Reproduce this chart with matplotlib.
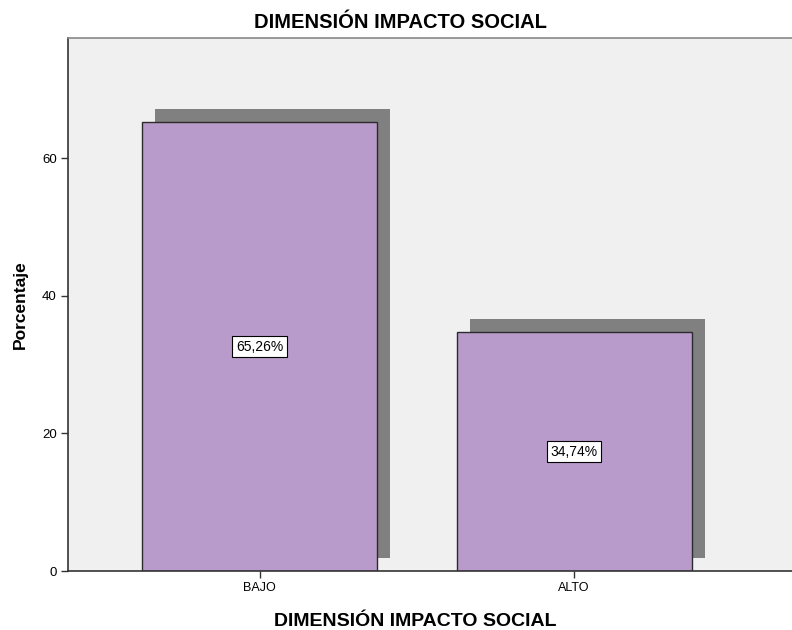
import matplotlib
matplotlib.use("Agg")
import matplotlib.pyplot as plt
import matplotlib.transforms as mtransforms

categories = ["BAJO", "ALTO"]
values = [65.26, 34.74]
labels = ["65,26%", "34,74%"]
yticks = [0, 20, 40, 60]

plt.rcParams['font.family'] = ['Liberation Sans', 'DejaVu Sans']

fig = plt.figure(figsize=(7.92, 6.30), dpi=100)
ax = fig.add_axes([68/792, 59/630, 1 - 68/792, (571-38)/630])
ax.set_facecolor('#F0F0F0')

x = list(range(len(categories)))
width = 0.747
shadow_tr = ax.transData + mtransforms.ScaledTranslation(13/100, 13/100, fig.dpi_scale_trans)
ax.bar(x, values, width=width, color='#808080', edgecolor='none', transform=shadow_tr, zorder=1)
ax.bar(x, values, width=width, color='#B89ACB', edgecolor='#2b2b2b', linewidth=1.0, zorder=2)

for xi, v, lab in zip(x, values, labels):
    ax.text(xi, v/2, lab, ha='center', va='center', fontsize=10, zorder=3,
            bbox=dict(boxstyle='square,pad=0.25', facecolor='white', edgecolor='black', linewidth=0.8))

ax.set_xlim(-0.609, 1.693)
ax.set_ylim(0, 77.5)
ax.set_xticks(x)
ax.set_xticklabels(categories, fontsize=9)
ax.set_yticks(yticks)
ax.set_yticklabels([str(t) for t in yticks], fontsize=9.5)
ax.tick_params(axis='both', length=5, width=1, color='#333333', pad=3)

for s in ['left', 'bottom']:
    ax.spines[s].set_color('#333333')
    ax.spines[s].set_linewidth(1.2)
ax.spines['top'].set_color('#888888')
ax.spines['top'].set_linewidth(1.2)
ax.spines['right'].set_visible(False)

ax.set_xlabel('DIMENSIÓN IMPACTO SOCIAL', fontsize=14, fontweight='bold')
ax.xaxis.set_label_coords((415 - 68) / (792 - 68), -(622 - 571) / (571 - 38))
ax.xaxis.label.set_va('center')
ax.set_ylabel('Porcentaje', fontsize=12.5, fontweight='bold', labelpad=10)
fig.text(400/792, 1 - 22/630, 'DIMENSIÓN IMPACTO SOCIAL', ha='center', va='center',
         fontsize=14.5, fontweight='bold')

fig.savefig('out.png', dpi=100)
